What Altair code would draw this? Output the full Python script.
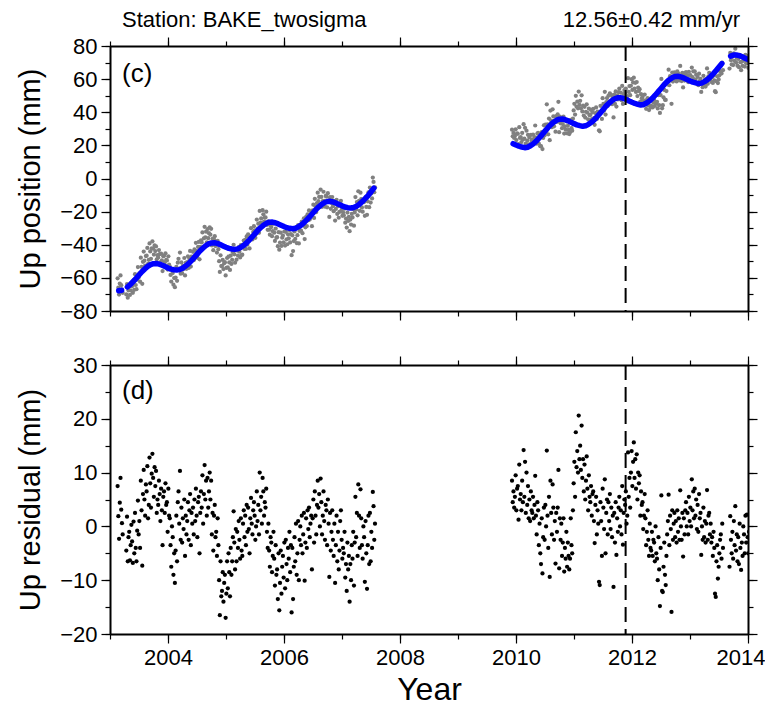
import altair as alt
import pandas as pd

FONT = "Liberation Sans"
STEP = 0.05
SUB = [-0.01875, -0.00625, 0.00625, 0.01875]

seg_names = ["A0", "A1", "B", "C"]
seg_start = [2003.15, 2003.30, 2009.95, 2013.70]

# model (blue curve) read at each 0.05 yr step
model_a0 = [-67.8, -67.5]
model_a1 = [
    -65.5, -64.0, -62.2, -60.3, -58.3, -56.3, -54.6, -53.1, -52.0, -51.4, -51.3, -51.7, -52.4, -53.2,
    -54.0, -54.7, -55.1, -55.3, -55.0, -54.2, -53.0, -51.5, -49.7, -47.8, -45.8, -43.8, -42.1, -40.6,
    -39.5, -38.9, -38.8, -39.2, -39.9, -40.7,
    -41.5, -42.2, -42.6, -42.8, -42.5, -41.7, -40.5, -39.0, -37.2, -35.3, -33.3, -31.3, -29.6, -28.1,
    -27.0, -26.4, -26.3, -26.7, -27.4, -28.2,
    -29.0, -29.7, -30.1, -30.3, -30.0, -29.2, -28.0, -26.5, -24.7, -22.8, -20.8, -18.8, -17.1, -15.6,
    -14.5, -13.9, -13.8, -14.2, -14.9, -15.7,
    -16.5, -17.2, -17.6, -17.8, -17.5, -16.7, -15.5, -14.0, -12.2, -10.3, -8.0, -5.8,
]
model_b = [
    21.0,
    20.2, 19.5, 19.0, 18.6, 18.9, 19.8, 21.0, 22.6, 24.5, 26.5, 28.6, 30.7, 32.5, 34.0, 35.2, 35.8,
    35.9, 35.5, 34.8, 33.9,
    33.1, 32.4, 31.9, 31.5, 31.8, 32.7, 33.9, 35.5, 37.4, 39.4, 41.5, 43.6, 45.4, 46.9, 48.1, 48.7,
    48.8, 48.4, 47.7, 46.8,
    46.0, 45.3, 44.8, 44.4, 44.7, 45.6, 46.8, 48.4, 50.3, 52.3, 54.4, 56.5, 58.3, 59.8, 61.0, 61.6,
    61.7, 61.3, 60.6, 59.7,
    58.9, 58.2, 57.7, 57.3, 57.6, 58.5, 59.7, 61.3, 63.2, 65.2, 67.3, 69.4,
]
model_c = [73.9, 74.5, 74.6, 74.2, 73.5, 72.6, 71.8]

# residuals (mm), four samples per 0.05 yr step
resid_a0 = [[7.5, 1.9, -2.3, 4.4], [9.0, 3.1, 0.6, -1.5]]
resid_a1 = [
    [-4.5, 1.8, -6.5, -2.0], [-1.0, -6.3, -3.5, 0.3], [-2.8, -6.8, 0.9, -5.0], [2.5, -4.0, -6.5, -0.8],
    [4.8, -1.5, 1.0, -4.0], [8.5, 3.0, -7.3, 6.0], [10.5, 5.0, 2.0, 7.8], [6.5, 11.2, 1.5, 4.0],
    [12.8, 8.0, 3.5, 9.8], [13.5, 9.0, 5.5, 11.0], [7.5, 10.3, 2.5, 5.0], [4.0, 8.5, 6.0, 1.0],
    [7.0, 3.0, -3.5, 5.5], [6.5, 2.5, 8.0, 4.0],
    [4.5, -1.0, 7.0, 2.0], [1.5, -3.5, -7.5, 0.0], [-2.0, -9.0, -5.0, -10.5], [-4.5, 2.0, -6.5, 4.5],
    [6.5, 0.5, 10.3, -2.5], [3.5, -3.0, 1.5, -0.5], [5.0, -5.5, 2.0, -1.5], [1.0, 4.5, -2.5, 3.0],
    [6.0, -3.5, 2.5, 0.5], [3.5, -1.5, 5.0, 1.0], [7.0, 2.0, -2.0, 4.5], [5.5, -5.0, 2.5, 6.5],
    [3.5, 9.5, 0.5, 6.0], [11.4, 5.0, 8.5, 2.0], [9.0, 3.5, 6.5, 10.0], [5.0, 8.5, -1.5, 2.5],
    [-4.5, 2.0, 4.0, -2.0], [-1.0, -5.5, 1.5, -3.5], [-10.0, -16.5, -6.5, -13.0], [-12.0, -8.5, -14.0, -10.5],
    [-9.0, -17.0, -12.5, -6.5], [-11.5, -5.0, -8.5, -13.0], [-4.0, -9.0, -6.5, -2.0], [2.8, -3.0, -8.0, -0.5],
    [-6.5, -1.0, -4.0, 1.0], [-2.5, -6.0, 1.5, -4.5], [-5.5, 0.5, 3.0, -2.0], [2.0, -3.5, 4.0, -1.0],
    [3.5, -0.5, -5.0, 1.5], [5.3, 0.5, -1.5, 3.0], [4.5, 2.0, -2.5, 0.0], [6.5, 1.0, 4.0, -1.5],
    [10.0, 3.0, 5.5, 0.5], [9.0, 6.5, 2.0, 4.5], [3.5, 7.0, -1.0, -4.0], [0.5, -4.5, -7.5, -2.0],
    [-3.0, -8.5, -5.5, -1.0], [-6.0, -11.0, -3.5, -9.0], [-8.0, -13.5, -5.0, -15.6], [-10.5, -4.5, -12.5, -7.5],
    [-5.5, -9.5, -3.0, -11.5], [-2.5, -7.0, -10.0, -4.0], [-6.0, -1.0, -8.5, -3.5], [-16.0, -4.0, -13.5, -7.5],
    [-2.0, -6.5, 0.5, -9.0], [-5.0, 1.0, -10.0, -2.5], [0.0, -3.5, 2.0, -5.0], [-1.5, 2.5, -10.1, -3.0],
    [1.5, -4.0, 3.0, -0.5], [3.5, -2.0, 0.5, 2.0], [-8.0, 1.5, 5.0, -3.0], [6.5, 2.0, -1.5, 4.0],
    [8.5, 3.5, 6.0, 0.0], [8.9, 4.5, -1.5, 2.0], [6.5, 1.0, -2.5, 4.0], [3.0, -3.5, 5.0, 0.5],
    [-9.4, 2.5, -4.5, -1.0], [3.0, -2.5, -5.5, 0.5], [-10.5, -3.5, 2.0, -6.5], [-1.0, -8.0, -4.5, 1.0],
    [3.0, -2.5, -6.0, -4.0], [-5.0, -1.0, -9.5, -7.0], [-12.0, -3.0, -8.0, -5.5], [-14.0, -7.0, -10.0, -3.5],
    [-6.0, -1.0, -11.0, -3.0], [5.5, -2.0, 2.5, -5.5], [7.8, 2.0, -4.0, 6.9], [1.5, -3.5, -6.0, 0.0],
    [-2.0, -10.3, 1.0, -5.0], [-11.6, -3.5, 2.0, -7.0], [2.5, -6.5, -1.0, -4.0], [6.4, 3.75, -2.5, 0.5],
]
resid_b = [
    [8.5, 4.5, 6.5, 3.5],
    [5.5, 9.5, 3.0, 7.0], [7.5, 1.25, 11.5, 5.0], [6.0, 3.0, 8.5, 4.5], [14.2, 5.5, 12.0, 2.5],
    [10.0, 4.0, 7.5, 1.5], [5.0, 1.0, 6.5, 3.0], [2.5, 5.5, 1.5, 4.0], [9.4, 2.0, -1.5, 4.5],
    [3.0, -3.5, 0.5, -5.0], [-7.0, 1.5, -8.75, -2.0], [3.5, -2.5, 4.0, 0.0], [14.1, 2.0, -4.0, 5.5],
    [-9.4, 8.5, 2.5, -1.5], [7.8, 3.5, -2.5, 1.0], [-6.9, 2.5, -1.0, 3.5], [10.5, -7.8, 1.5, -2.5],
    [0.5, -5.5, -3.0, 1.5], [-8.4, -4.0, -6.0, -1.0], [-7.5, -3.0, -5.5, -8.0], [-6.0, 1.5, -3.5, -5.0],
    [3.0, 8.0, 12.0, 5.5], [17.5, 11.0, 14.0, 10.0], [20.6, 12.5, 15.0, 10.5], [18.75, 9.0, 12.5, 6.5],
    [11.5, 5.0, 8.5, 13.0], [7.0, 3.0, 9.5, 5.5], [4.5, 7.5, 2.0, 6.0], [6.5, 1.0, -3.1, 4.0],
    [5.5, -1.5, 3.0, 0.5], [-10.3, -10.9, 4.5, 1.0], [-5.5, 7.0, 3.5, -0.5], [8.75, -5.0, 2.5, 5.0],
    [-1.5, 4.5, 1.0, 6.0], [-0.5, 3.5, -2.0, 2.0], [-11.25, 2.5, -3.0, 4.5], [-5.3, 1.5, -1.0, 3.5],
    [5.5, 0.0, 3.0, -1.5], [7.5, -3.4, 2.5, 5.0], [4.0, 6.5, 0.5, 2.0], [13.75, 5.5, 9.0, 3.5],
    [10.0, 14.0, 7.5, 12.0], [15.6, 9.0, 12.5, 7.0], [13.4, 5.0, 10.0, 8.0], [9.5, 2.0, 6.5, 4.0],
    [4.5, -0.5, 2.0, 6.0], [1.5, -3.5, -1.0, 3.0], [-2.5, -5.5, 0.5, -4.0], [-4.5, -1.0, -5.5, -2.5],
    [-3.0, -6.5, 0.0, -5.0], [-6.0, -10.0, -2.0, -8.0], [-14.8, -4.0, 5.75, -12.0], [-12.2, -7.5, -3.0, -9.0],
    [-10.9, -5.5, -1.5, 1.0], [5.9, -3.5, 2.0, -0.5], [-15.9, 3.0, -2.5, 0.5], [2.5, -2.0, 1.0, -3.0],
    [3.0, -1.0, 1.5, -2.5], [6.7, 0.0, -2.5, 2.5], [-5.6, 1.5, -1.5, 3.0], [4.5, 0.0, 2.5, -1.5],
    [5.5, 1.0, 3.5, 0.0], [8.75, 3.0, 6.5, 1.5], [7.0, 2.0, 5.0, -0.5], [4.0, -1.0, 6.0, 1.5],
    [2.5, -5.3, 0.0, -2.5], [3.5, -2.0, 1.0, -3.0], [0.5, 6.75, -2.5, 2.0], [2.5, -1.5, 0.5, -3.0],
    [-2.0, -5.5, -1.0, -4.0], [-12.5, -13.1, -6.5, -3.5], [-9.7, -7.5, -5.0, -2.5], [-1.5, -6.0, 0.5, -4.0],
]
resid_c = [
    [-7.5, 1.9, -2.5, -5.0], [-1.0, -6.0, 1.0, -3.5], [3.75, -4.5, -1.5, -6.5], [-2.0, -7.0, 0.5, -4.0],
    [-8.1, -3.0, -5.5, 0.0], [-1.5, -5.0, 2.0, -3.0], [2.2, -2.0, -5.0, -1.0],
]

event_year = [2011.89]
title_left = ["Station: BAKE_twosigma"]
title_right = ["12.56\u00b10.42 mm/yr"]

models = [model_a0, model_a1, model_b, model_c]
resids = [resid_a0, resid_a1, resid_b, resid_c]

line_rows, pt_rows = [], []
for name, t0, model, resid in zip(seg_names, seg_start, models, resids):
    for i, (m, rr) in enumerate(zip(model, resid)):
        t = round(t0 + STEP * i, 4)
        line_rows.append({"year": t, "model": m, "seg": name})
        for o, r in zip(SUB, rr):
            pt_rows.append({"year": round(t + o, 5), "resid": r, "pos": round(m + r, 2)})

pts = pd.DataFrame(pt_rows)
lines = pd.DataFrame(line_rows)
ev = pd.DataFrame({"year": event_year})

W = 638
XD = [2003, 2014]
x_major = [2004, 2006, 2008, 2010, 2012, 2014]
x_minor = list(range(2003, 2015))

AX = dict(tickColor="black", tickWidth=1.2, labelFont=FONT, labelColor="black",
          labelFontSize=22, titleFont=FONT, titleColor="black", titleFontWeight="normal",
          grid=False, zindex=1, domainColor="black", domainWidth=2, format="d",
          labelFlush=False)


def ax(orient, values, size, labels=False, domain=False, **kw):
    d = dict(AX)
    d.update(orient=orient, values=values, tickSize=size, labels=labels, domain=domain)
    d.update(kw)
    if "title" not in d:
        d["title"] = None
    return alt.Axis(**d)


def panel(yfield, ydom, y_major, y_minor, ytitle, height, color, bottom, extra):
    xs = alt.Scale(domain=XD, nice=False, zero=False)
    ys = alt.Scale(domain=ydom, nice=False, zero=False)
    base = alt.Chart(pts)
    if bottom:
        xmaj = ax("bottom", x_major, 9, labels=True, domain=True, labelPadding=4,
                  title="Year", titleFontSize=32, titlePadding=6,
                  labelFlush=True, labelFlushOffset=17)
    else:
        xmaj = ax("bottom", x_major, 9, domain=True)
    ymaj = ax("left", y_major, 9, labels=True, domain=True, labelPadding=4,
              title=ytitle, titleFontSize=29, titlePadding=14)
    pts_layer = base.mark_circle(size=18, color=color, opacity=1, clip=True).encode(
        x=alt.X("year:Q", scale=xs, axis=xmaj),
        y=alt.Y(f"{yfield}:Q", scale=ys, axis=ymaj),
    )
    minor_lb = base.mark_circle(opacity=0, size=1).encode(
        x=alt.X("year:Q", scale=xs, axis=ax("bottom", x_minor, 5)),
        y=alt.Y(f"{yfield}:Q", scale=ys, axis=ax("left", y_minor, 5)),
    )
    major_tr = base.mark_circle(opacity=0, size=1).encode(
        x=alt.X("year:Q", scale=xs, axis=ax("top", x_major, 9, domain=True)),
        y=alt.Y(f"{yfield}:Q", scale=ys, axis=ax("right", y_major, 9, domain=True)),
    )
    minor_tr = base.mark_circle(opacity=0, size=1).encode(
        x=alt.X("year:Q", scale=xs, axis=ax("top", x_minor, 5)),
        y=alt.Y(f"{yfield}:Q", scale=ys, axis=ax("right", y_minor, 5)),
    )
    rule = alt.Chart(ev).mark_rule(color="black", strokeWidth=2, strokeDash=[15, 7]).encode(
        x=alt.X("year:Q", scale=xs, axis=None)
    )
    layers = [pts_layer] + extra(xs, ys) + [rule, minor_lb, major_tr, minor_tr]
    return alt.layer(*layers).resolve_axis(x="independent", y="independent").properties(
        width=W, height=height
    )


def top_extra(xs, ys):
    line = alt.Chart(lines).mark_line(color="#0000ff", strokeWidth=5.5, strokeCap="round",
                                      strokeJoin="round", clip=True).encode(
        x=alt.X("year:Q", scale=xs, axis=None),
        y=alt.Y("model:Q", scale=ys, axis=None),
        detail="seg:N",
    )
    lab = alt.Chart(pd.DataFrame({"t": ["(c)"]})).mark_text(
        font=FONT, fontSize=26, align="left", baseline="middle", color="black"
    ).encode(text="t:N", x=alt.value(12), y=alt.value(28))
    t1 = alt.Chart(pd.DataFrame({"t": title_left})).mark_text(
        font=FONT, fontSize=22, align="left", baseline="alphabetic", color="black"
    ).encode(text="t:N", x=alt.value(12), y=alt.value(-19))
    t2 = alt.Chart(pd.DataFrame({"t": title_right})).mark_text(
        font=FONT, fontSize=22, align="right", baseline="alphabetic", color="black"
    ).encode(text="t:N", x=alt.value(630), y=alt.value(-19))
    return [line, lab, t1, t2]


def bottom_extra(xs, ys):
    lab = alt.Chart(pd.DataFrame({"t": ["(d)"]})).mark_text(
        font=FONT, fontSize=26, align="left", baseline="middle", color="black"
    ).encode(text="t:N", x=alt.value(12), y=alt.value(26))
    return [lab]


top = panel("pos", [-80, 80], list(range(-80, 81, 20)), list(range(-80, 81, 10)),
            "Up position (mm)", 265, "#808080", False, top_extra)
bot = panel("resid", [-20, 30], list(range(-20, 31, 10)), list(range(-20, 31, 5)),
            "Up residual (mm)", 269, "#000000", True, bottom_extra)

chart = alt.vconcat(top, bot, spacing=32).properties(
    padding={"left": 8, "top": 1, "right": 0, "bottom": 0}
).configure_view(stroke=None)

chart.save("out.html", embed_options={"renderer": "svg", "actions": False})
